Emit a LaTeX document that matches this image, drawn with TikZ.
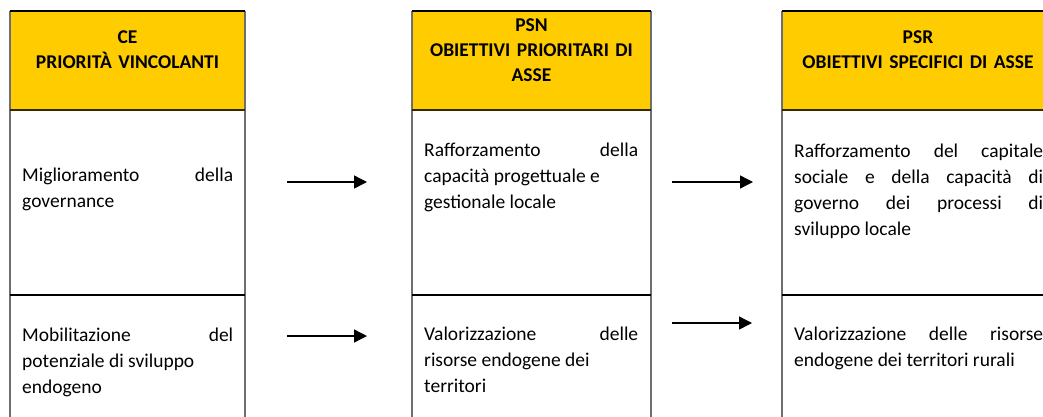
\documentclass[tikz,border=0pt]{standalone}
\usepackage{fontspec}
\setmainfont{Carlito}
\usetikzlibrary{arrows.meta}
\definecolor{headyellow}{HTML}{FFCC00}
\definecolor{rulegray}{HTML}{6E6E6E}
\tikzset{
  headtext/.style={font=\fontsize{19.5}{25}\selectfont\bfseries, text width=#1,
    align=center, anchor=north, inner sep=0pt},
  celltext/.style={font=\fontsize{19.5}{26}\selectfont, text width=#1,
    align=justify, anchor=north west, inner sep=0pt},
  linkarrow/.style={-{Triangle[length=13pt,width=13pt]}, line width=1.4pt},
}
\begin{document}
\begin{tikzpicture}[x=1pt,y=-1pt]
    \clip (0,0) rectangle (1043,416);
    \foreach \xl/\xr in {10/245,412/651,782/1054} {
        \fill[headyellow] (\xl,11) rectangle (\xr,110);
        \draw[rulegray,line width=1.6pt] (\xl,11) -- (\xl,430) (\xr,11) -- (\xr,430);
        \draw[black!80!headyellow,line width=1.6pt] (\xl,110) -- (\xr,110);
        \draw[black,line width=1.1pt] (\xl,295) -- (\xr,295);
        \draw[black,line width=1.4pt] (\xl,11) -- (\xr,11);
    }
    \node[headtext=230pt] (ceHead) at (127.5,26) {\strut CE\\PRIORITÀ VINCOLANTI};
    \node[headtext=230pt] (psnHead) at (531.5,14) {\strut PSN\\OBIETTIVI PRIORITARI DI\\ASSE};
    \node[headtext=262pt] (psrHead) at (918,26) {\strut PSR\\OBIETTIVI SPECIFICI DI ASSE};
    \node[celltext=211pt] (ceGov) at (22,163) {\strut Miglioramento della\linebreak governance};
    \node[celltext=214pt] (psnGov) at (424,138.5) {\strut Rafforzamento della\linebreak capacità progettuale e\newline gestionale locale};
    \node[celltext=249pt] (psrGov) at (794,139.5) {\strut Rafforzamento del capitale\linebreak sociale e della capacità di\linebreak governo dei processi di\linebreak sviluppo locale};
    \node[celltext=211pt] (ceEnd) at (22,323.5) {\strut Mobilitazione del\linebreak potenziale di sviluppo\newline endogeno};
    \node[celltext=214pt] (psnEnd) at (424,322.5) {\strut Valorizzazione delle\linebreak risorse endogene dei\newline territori};
    \node[celltext=249pt] (psrEnd) at (794,322.5) {\strut Valorizzazione delle risorse\linebreak endogene dei territori rurali};
    \coordinate (govA) at (287,182);
    \coordinate (govB) at (367,182);
    \coordinate (govC) at (672,182);
    \coordinate (govD) at (753,182);
    \coordinate (endA) at (287,336);
    \coordinate (endB) at (367,336);
    \coordinate (endC) at (672,323);
    \coordinate (endD) at (752,323);
    \draw[linkarrow] (govA) -- (govB);
    \draw[linkarrow] (govC) -- (govD);
    \draw[linkarrow] (endA) -- (endB);
    \draw[linkarrow] (endC) -- (endD);
\end{tikzpicture}
\end{document}
